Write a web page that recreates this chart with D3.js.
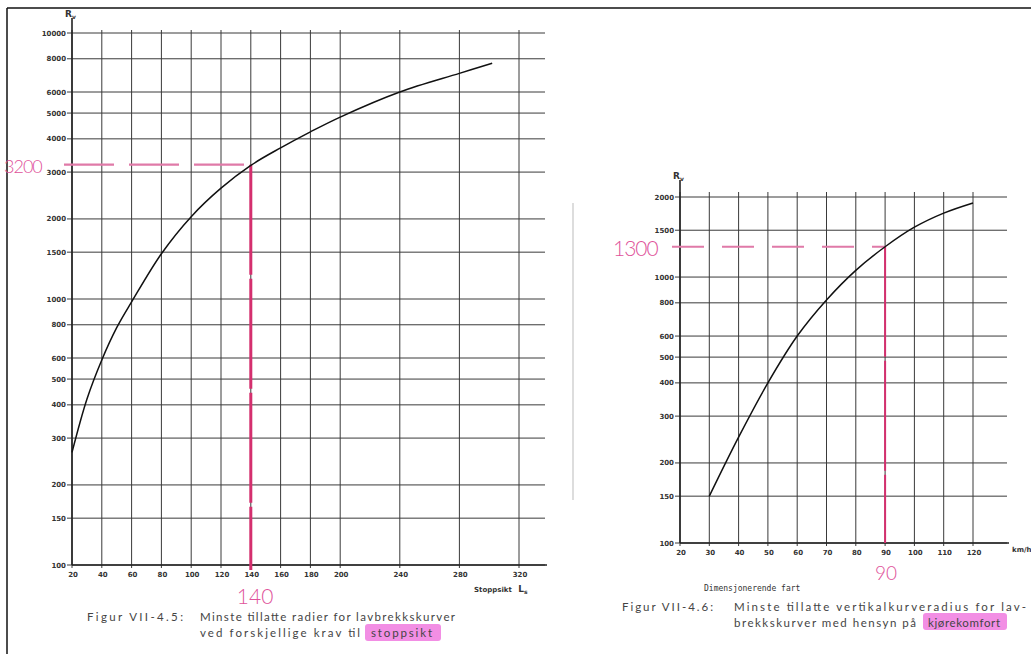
<!DOCTYPE html>
<html>
<head>
<meta charset="utf-8">
<script src="https://cdn.jsdelivr.net/npm/d3@7"></script>
<style>
  body { margin: 0; background: #fff; }
  svg { display: block; }
  .tick-lbl { font-family: "DejaVu Sans", sans-serif; font-size: 7px; font-weight: bold; fill: #333; }
  .cap { font-family: "Lato", "DejaVu Sans", sans-serif; font-size: 11.5px; fill: #444; }
  .hand { font-family: "Lato", sans-serif; font-weight: 300; fill: #e0529a; }
</style>
</head>
<body>
<div id="chart"></div>
<script>
// Left chart: stopping sight distance vs minimum sag radius
var leftXTicks = [20, 40, 60, 80, 100, 120, 140, 160, 180, 200, 240, 280, 320];
var leftYTicks = [100, 150, 200, 300, 400, 500, 600, 800, 1000, 1500, 2000, 3000, 4000, 5000, 6000, 8000, 10000];
var leftCurveX = [20, 30, 40, 50, 60, 80, 100, 120, 140, 160, 180, 200, 240, 280, 302];
var leftCurveY = [265, 420, 590, 780, 975, 1480, 2040, 2610, 3180, 3700, 4250, 4830, 6000, 7050, 7700];
var leftMark = [140, 3200];

// Right chart: design speed vs minimum vertical curve radius
var rightXTicks = [20, 30, 40, 50, 60, 70, 80, 90, 100, 110, 120];
var rightYTicks = [100, 150, 200, 300, 400, 500, 600, 800, 1000, 1500, 2000];
var rightCurveX = [30, 40, 50, 60, 70, 80, 90, 100, 110, 120];
var rightCurveY = [150, 250, 400, 600, 820, 1060, 1300, 1540, 1740, 1900];
var rightMark = [90, 1300];

var W = 1031, H = 654;
var svg = d3.select("#chart").append("svg").attr("width", W).attr("height", H);

// page frame + fold
svg.append("line").attr("x1", 7).attr("x2", W).attr("y1", 8).attr("y2", 8).attr("stroke", "#111").attr("stroke-width", 1.5);
svg.append("line").attr("x1", 7).attr("x2", 7).attr("y1", 8).attr("y2", H).attr("stroke", "#111").attr("stroke-width", 1.5);
svg.append("line").attr("x1", 573).attr("x2", 573).attr("y1", 203).attr("y2", 500).attr("stroke", "#bbb").attr("stroke-width", 1);

function drawChart(o) {
    var g = svg.append("g");
    var x = d3.scaleLinear().domain(o.xDomain).range(o.xRange);
    var y = d3.scaleLog().domain(o.yDomain).range(o.yRange);

    // horizontal grid
    g.selectAll(".hg").data(o.yTicks).enter().append("line")
        .attr("x1", x(o.xDomain[0]) - 5).attr("x2", o.gridRight)
        .attr("y1", d => y(d)).attr("y2", d => y(d))
        .attr("stroke", "#3a3a3a").attr("stroke-width", 1);
    // vertical grid
    g.selectAll(".vg").data(o.xTicks).enter().append("line")
        .attr("x1", d => x(d)).attr("x2", d => x(d))
        .attr("y1", o.gridTop).attr("y2", y(o.yDomain[0]) + 3)
        .attr("stroke", "#3a3a3a").attr("stroke-width", 1);
    // axes
    g.append("line").attr("x1", x(o.xDomain[0])).attr("x2", x(o.xDomain[0]))
        .attr("y1", o.gridTop - 12).attr("y2", y(o.yDomain[0]))
        .attr("stroke", "#222").attr("stroke-width", 1.6);
    g.append("line").attr("x1", x(o.xDomain[0])).attr("x2", o.gridRight + 2)
        .attr("y1", y(o.yDomain[0])).attr("y2", y(o.yDomain[0]))
        .attr("stroke", "#222").attr("stroke-width", 1.6);

    // tick labels
    g.selectAll(".yl").data(o.yTicks).enter().append("text")
        .attr("class", "tick-lbl").attr("text-anchor", "end")
        .attr("x", x(o.xDomain[0]) - 6).attr("y", d => y(d) + 2.5)
        .text(d => d);
    g.selectAll(".xl").data(o.xTicks).enter().append("text")
        .attr("class", "tick-lbl").attr("text-anchor", "middle")
        .attr("x", d => x(d) + 1).attr("y", y(o.yDomain[0]) + 12)
        .text(d => d);
    g.append("text").attr("class", "tick-lbl").style("font-size", "9px")
        .attr("x", x(o.xDomain[0]) - 7).attr("y", o.gridTop - 13)
        .html("R<tspan font-size='6' dy='1.5'>v</tspan>");

    // annotation (pink)
    var mx = x(o.mark[0]), my = y(o.mark[1]);
    g.append("line").attr("x1", x(o.xDomain[0]) - 8).attr("x2", mx)
        .attr("y1", my).attr("y2", my)
        .attr("stroke", "#e07aa8").attr("stroke-width", 2.2)
        .attr("stroke-dasharray", o.dash);
    g.append("line").attr("x1", mx).attr("x2", mx)
        .attr("y1", my).attr("y2", y(o.yDomain[0]) + o.vExtra)
        .attr("stroke", "#d42f6e").attr("stroke-width", o.vWidth)
        .attr("stroke-dasharray", "110,4");

    // curve
    var line = d3.line().x(d => x(d[0])).y(d => y(d[1])).curve(d3.curveCatmullRom.alpha(0.5));
    g.append("path").datum(d3.zip(o.cx, o.cy))
        .attr("d", line).attr("fill", "none")
        .attr("stroke", "#111").attr("stroke-width", 1.5);

    return { x: x, y: y };
}

var L = drawChart({
    xDomain: [20, 320], xRange: [72, 519],
    yDomain: [100, 10000], yRange: [565, 33],
    xTicks: leftXTicks, yTicks: leftYTicks,
    cx: leftCurveX, cy: leftCurveY, mark: leftMark,
    gridRight: 545, gridTop: 30, dash: "50,15", vWidth: 3, vExtra: 5
});

var R = drawChart({
    xDomain: [20, 120], xRange: [680, 973],
    yDomain: [100, 2000], yRange: [543, 197],
    xTicks: rightXTicks, yTicks: rightYTicks,
    cx: rightCurveX, cy: rightCurveY, mark: rightMark,
    gridRight: 1007, gridTop: 192, dash: "32,18", vWidth: 2, vExtra: 0
});

// axis titles
svg.append("text").attr("class", "tick-lbl").attr("x", 474).attr("y", 592)
    .html("Stoppsikt <tspan font-size='9' dx='4'>L</tspan><tspan font-size='6' dy='2'>s</tspan>");
svg.append("text").attr("class", "tick-lbl").attr("x", 1012).attr("y", 552).text("km/h");
svg.append("text").attr("x", 704).attr("y", 591)
    .style("font-family", "'DejaVu Sans Mono', monospace").style("font-size", "8px").style("fill", "#333")
    .text("Dimensjonerende fart");

// handwritten values
svg.append("text").attr("class", "hand").attr("x", 4).attr("y", L.y(leftMark[1]) + 8).style("font-size", "18px").style("letter-spacing", "-1px").text("3200");
svg.append("text").attr("class", "hand").attr("x", L.x(leftMark[0]) - 14).attr("y", 604).style("font-size", "21px").text("140");
svg.append("text").attr("class", "hand").attr("x", 613).attr("y", R.y(rightMark[1]) + 9).style("font-size", "21px").style("letter-spacing", "-1px").text("1300");
svg.append("text").attr("class", "hand").attr("x", R.x(rightMark[0]) - 10).attr("y", 580).style("font-size", "19px").text("90");

// captions with highlighter
svg.append("rect").attr("x", 365).attr("y", 624).attr("width", 76).attr("height", 17).attr("rx", 3).attr("fill", "#f28ee4");
svg.append("rect").attr("x", 923).attr("y", 613).attr("width", 84).attr("height", 17).attr("rx", 3).attr("fill", "#f28ee4");

function cap(x, y, len, txt) {
    svg.append("text").attr("class", "cap").attr("x", x).attr("y", y)
        .attr("textLength", len).attr("lengthAdjust", "spacing").text(txt);
}
cap(87, 621, 96, "Figur VII-4.5:");
cap(200, 621, 255, "Minste tillatte radier for lavbrekkskurver");
cap(200, 637, 160, "ved forskjellige krav til");
cap(371, 637, 61, "stoppsikt");

cap(622, 611, 91, "Figur VII-4.6:");
cap(734, 611, 292, "Minste tillatte vertikalkurveradius for lav-");
cap(734, 627, 182, "brekkskurver med hensyn på");
cap(928, 627, 72, "kjørekomfort");
</script>
</body>
</html>
